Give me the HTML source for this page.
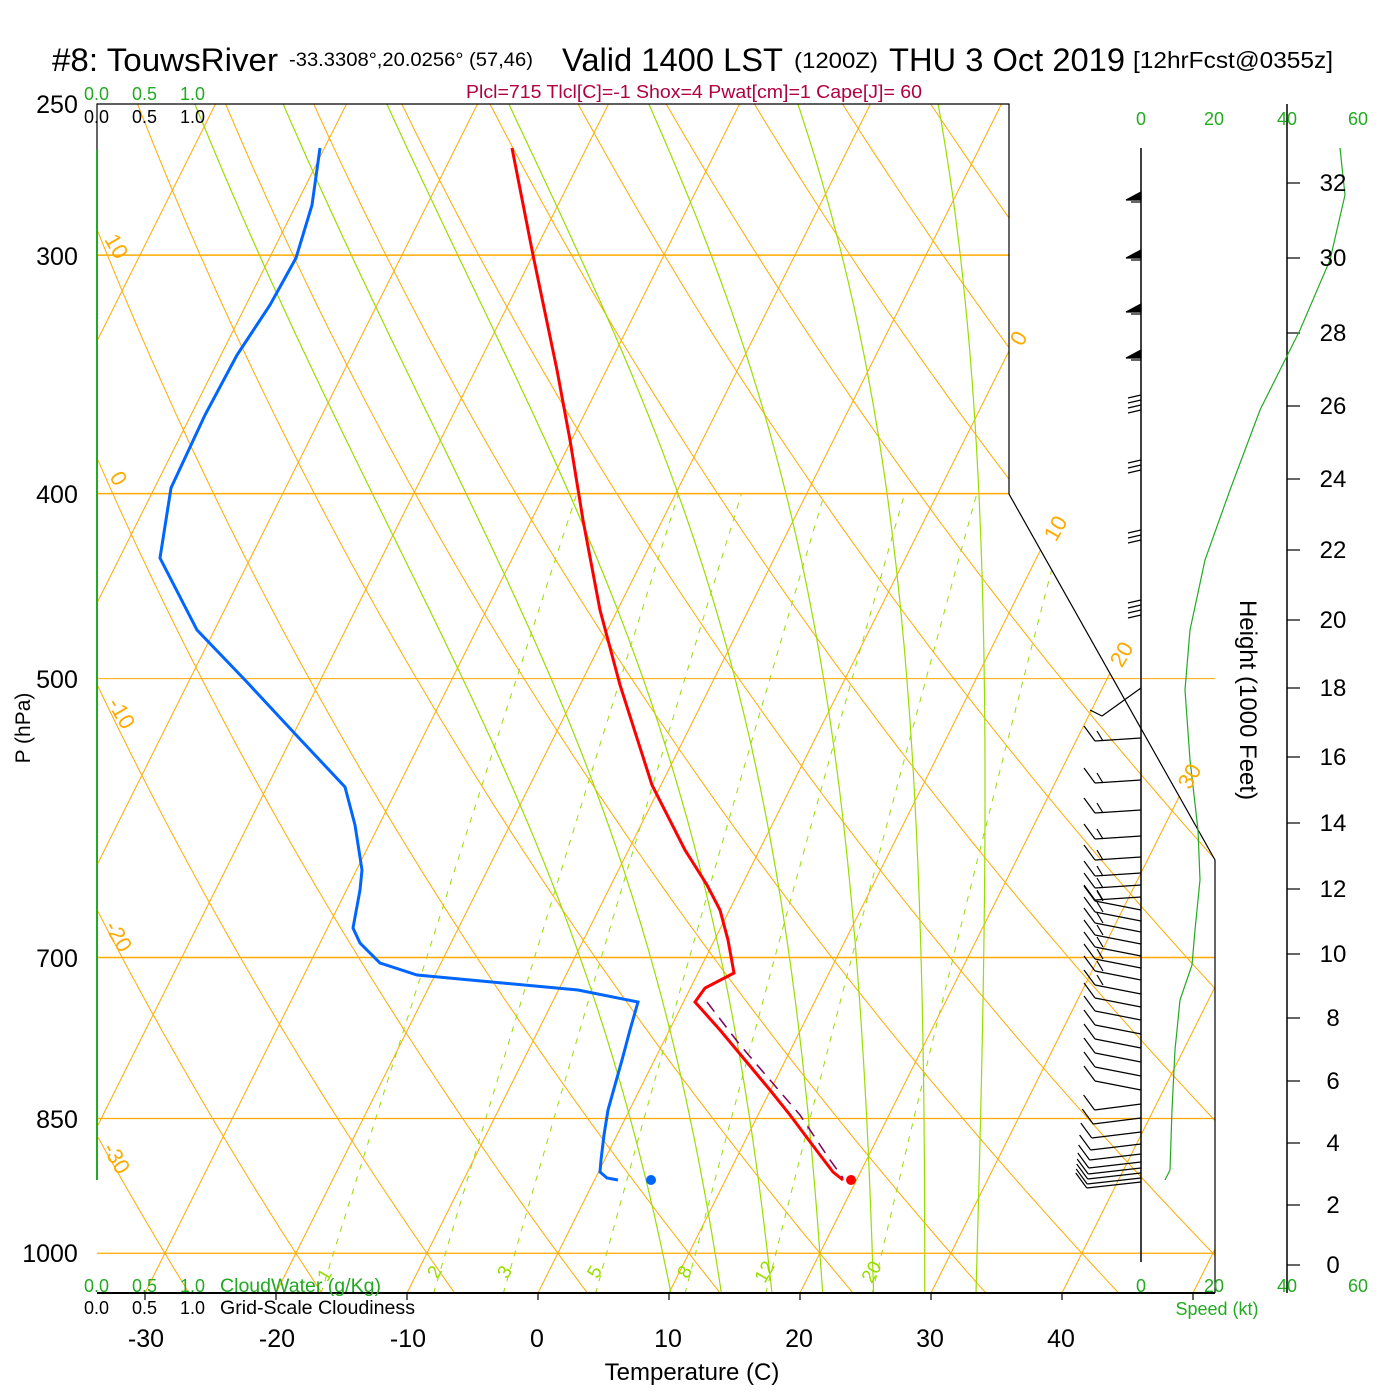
<!DOCTYPE html>
<html><head><meta charset="utf-8"><style>
html,body{margin:0;padding:0;background:#fff;}
svg{display:block;}
text{font-family:"Liberation Sans",sans-serif;}
</style></head><body>
<svg id="s" width="1400" height="1400" viewBox="0 0 1400 1400" xmlns="http://www.w3.org/2000/svg">
<defs><clipPath id="cp"><polygon points="97,104 1009,104 1009,494 1215,860 1215,1293 97,1293"/></clipPath></defs>
<rect width="1400" height="1400" fill="#fff"/>
<g id="grid" clip-path="url(#cp)"></g>
<g id="hl"></g>
<g stroke="#000" stroke-width="1.2" fill="none">
<polyline points="97,150 97,104 1009,104 1009,494 1215,860 1215,1293"/>
<line x1="97" y1="1293" x2="1215" y2="1293" stroke-width="2"/>
<line x1="1141" y1="148" x2="1141" y2="1262" stroke-width="1.5"/>
<line x1="1287" y1="104" x2="1287" y2="1293" stroke-width="1.5"/>
</g>
<line x1="97" y1="150" x2="97" y2="1180" stroke="#22aa22" stroke-width="2"/>
<g id="ticks" stroke="#000" stroke-width="1.2"></g>
<g id="barbs" stroke="#000" stroke-width="1.2" fill="#000"></g>
<polyline fill="none" stroke="#22aa22" stroke-width="1.2" points="1340,148 1345,195 1330,260 1300,330 1260,410 1230,490 1205,560 1190,630 1185,690 1190,760 1198,830 1200,880 1195,930 1192,965 1180,1000 1175,1050 1172,1110 1170,1170 1165,1180"/>
<polyline fill="none" stroke="#800060" stroke-width="1.5" stroke-dasharray="12,8" points="707,1002 740,1045 770,1080 800,1115 830,1160 843,1178"/>
<polyline fill="none" stroke="#ff0000" stroke-width="3" points="512,148 533,255 557,370 570,440 583,520 600,610 620,685 652,785 685,850 707,885 720,910 728,940 734,973 705,988 695,1002 720,1030 745,1060 770,1090 790,1115 805,1135 820,1155 833,1172 843,1180"/>
<polyline fill="none" stroke="#0066ff" stroke-width="3" points="320,148 312,205 296,258 270,305 237,355 205,415 171,488 160,558 197,630 245,680 298,737 345,787 355,825 362,870 360,890 353,928 360,943 380,963 417,975 578,990 638,1002 630,1030 622,1060 615,1085 608,1110 604,1135 601,1160 600,1172 607,1178 618,1180"/>
<circle cx="851" cy="1180" r="5" fill="#ff0000"/>
<circle cx="651" cy="1180" r="5" fill="#0066ff"/>
<g font-size="32"><text x="52" y="71" textLength="226" lengthAdjust="spacingAndGlyphs">#8: TouwsRiver</text><text x="562" y="71" textLength="221" lengthAdjust="spacingAndGlyphs">Valid 1400 LST</text><text x="889" y="71" textLength="236" lengthAdjust="spacingAndGlyphs">THU 3 Oct 2019</text></g>
<text x="289" y="66" font-size="19" textLength="244" lengthAdjust="spacingAndGlyphs">-33.3308°,20.0256° (57,46)</text>
<text x="794" y="68" font-size="22" textLength="84" lengthAdjust="spacingAndGlyphs">(1200Z)</text>
<text x="1133" y="68" font-size="23" textLength="200" lengthAdjust="spacingAndGlyphs">[12hrFcst@0355z]</text>
<text x="694" y="98" font-size="18" fill="#b00040" text-anchor="middle" textLength="456" lengthAdjust="spacingAndGlyphs">Plcl=715 Tlcl[C]=-1 Shox=4 Pwat[cm]=1 Cape[J]= 60</text>
<g font-size="18" fill="#22aa22"><text x="84" y="100">0.0</text><text x="132" y="100">0.5</text><text x="180" y="100">1.0</text>
<text x="84" y="1292">0.0</text><text x="132" y="1292">0.5</text><text x="180" y="1292">1.0</text><text x="220" y="1292" font-size="19" textLength="161" lengthAdjust="spacingAndGlyphs">CloudWater (g/Kg)</text></g>
<g font-size="18" fill="#000"><text x="84" y="123">0.0</text><text x="132" y="123">0.5</text><text x="180" y="123">1.0</text>
<text x="84" y="1314">0.0</text><text x="132" y="1314">0.5</text><text x="180" y="1314">1.0</text><text x="220" y="1314" font-size="19" textLength="195" lengthAdjust="spacingAndGlyphs">Grid-Scale Cloudiness</text></g>
<g font-size="25" text-anchor="middle"><text x="57" y="113">250</text><text x="57" y="265">300</text><text x="57" y="503">400</text><text x="57" y="688">500</text><text x="57" y="967">700</text><text x="57" y="1128">850</text><text x="50" y="1262">1000</text>
<text x="146" y="1347">-30</text><text x="277" y="1347">-20</text><text x="408" y="1347">-10</text><text x="537" y="1347">0</text><text x="668" y="1347">10</text><text x="799" y="1347">20</text><text x="930" y="1347">30</text><text x="1061" y="1347">40</text></g>
<text x="692" y="1380" font-size="24" text-anchor="middle">Temperature (C)</text>
<text transform="translate(30,728) rotate(-90)" font-size="21" text-anchor="middle">P (hPa)</text>
<text transform="translate(1240,700) rotate(90)" font-size="24" text-anchor="middle">Height (1000 Feet)</text>
<g font-size="24" text-anchor="middle" id="hlab"></g>
<g font-size="18" fill="#22aa22" text-anchor="middle"><text x="1141" y="125">0</text><text x="1214" y="125">20</text><text x="1287" y="125">40</text><text x="1358" y="125">60</text>
<text x="1141" y="1292">0</text><text x="1214" y="1292">20</text><text x="1287" y="1292">40</text><text x="1358" y="1292">60</text><text x="1217" y="1315">Speed (kt)</text></g>
<g font-size="22" fill="#ffaa00" text-anchor="middle">
<text transform="translate(1025,342) rotate(-60)">0</text><text transform="translate(1062,532) rotate(-60)">10</text><text transform="translate(1128,658) rotate(-60)">20</text><text transform="translate(1196,780) rotate(-60)">30</text>
<text transform="translate(110,250) rotate(60)">10</text><text transform="translate(112,482) rotate(60)">0</text><text transform="translate(115,717) rotate(60)">-10</text><text transform="translate(112,940) rotate(60)">-20</text><text transform="translate(110,1162) rotate(60)">-30</text></g>
<g font-size="19" fill="#99dd00" text-anchor="middle">
<text transform="translate(330,1278) rotate(-60)">1</text><text transform="translate(440,1275) rotate(-60)">2</text><text transform="translate(510,1275) rotate(-60)">3</text><text transform="translate(600,1275) rotate(-60)">5</text><text transform="translate(690,1275) rotate(-60)">8</text><text transform="translate(770,1275) rotate(-60)">12</text><text transform="translate(877,1275) rotate(-60)">20</text></g>
</svg>
<script>
(function(){
var NS="http://www.w3.org/2000/svg";
function Y(p){return 104+829*Math.log(p/250);}
function X(T,y){return 538+13.1*T+0.5*(1293-y);}
function add(g,tag,a){var e=document.createElementNS(NS,tag);for(var k in a)e.setAttribute(k,a[k]);g.appendChild(e);return e;}
var g=document.getElementById('grid');
var OR="#ffaa00",GR="#99dd00";
for(var T=-150;T<=60;T+=10){add(g,'line',{x1:X(T,1293),y1:1293,x2:X(T,104),y2:104,stroke:OR,'stroke-width':1});}
function pts(f,p0,p1){var s=[];for(var p=p0;p>=p1;p-=5){var y=Y(p);s.push(X(f(p),y).toFixed(1)+','+y.toFixed(1));}return s.join(' ');}
for(var th=-40;th<=220;th+=10){(function(th){add(g,'polyline',{points:pts(function(p){return (th+273.15)*Math.pow(p/1000,0.286)-273.15;},1050,250),fill:'none',stroke:OR,'stroke-width':1});})(th);}
function es(T){return 6.112*Math.exp(17.67*T/(T+243.5));}
[1,2,3,5,8,12,20].forEach(function(w){add(g,'polyline',{points:pts(function(p){var e=w*p/(622+w);var l=Math.log(e/6.112);return 243.5*l/(17.67-l);},1050,400),fill:'none',stroke:GR,'stroke-width':1,'stroke-dasharray':'6,7'});});
function moist(T0){var T=T0+273.15,p,dp=-2;var Rd=287,cp=1004,Lv=2.5e6,eps=0.622;
 function d(T,p){var e=es(T-273.15);var rs=eps*e/(p-e);return (Rd*T+Lv*rs)/(p*(cp+Lv*Lv*rs*eps/(Rd*T*T)));}
 var arr=[];var Tu=T;for(p=1000;p>=250;p+=dp){arr.push([p,Tu-273.15]);Tu+=d(Tu,p)*dp;}
 var Td=T,low=[];for(p=1000;p<=1050;p+=2){low.unshift([p,Td-273.15]);Td+=d(Td,p)*2;}
 return low.concat(arr);}
[8,12,16,20,24,28,32].forEach(function(t){var a=moist(t);add(g,'polyline',{points:a.map(function(q){var y=Y(q[0]);return X(q[1],y).toFixed(1)+','+y.toFixed(1);}).join(' '),fill:'none',stroke:GR,'stroke-width':1.2});});
var hl=document.getElementById('hl');
[[300,1009,1.5],[400,1009,1.5],[500,1215,1],[700,1215,1.5],[850,1215,1.2],[1000,1215,1.2]].forEach(function(a){var y=Y(a[0]);add(hl,'line',{x1:97,y1:y,x2:a[1],y2:y,stroke:OR,'stroke-width':a[2]});});
var tk=document.getElementById('ticks');
for(var x=145;x<=1215;x+=131)add(tk,'line',{x1:x,y1:1293,x2:x,y2:1300});
var hlab=document.getElementById('hlab');
[[32,183],[30,258],[28,333],[26,406],[24,479],[22,550],[20,620],[18,688],[16,757],[14,823],[12,889],[10,954],[8,1018],[6,1081],[4,1143],[2,1205],[0,1265]].forEach(function(h){add(tk,'line',{x1:1287,y1:h[1],x2:1300,y2:h[1]});var t=add(hlab,'text',{x:1333,y:h[1]+8});t.textContent=h[0];});
var b=document.getElementById('barbs');
[200,258,312,358].forEach(function(y){add(b,'polygon',{points:'1126,'+y+' 1141,'+y+' 1141,'+(y-8)});add(b,'line',{x1:1131,y1:y+2,x2:1141,y2:y+2});});
[395,400,405,410,460,465,470,530,535,540,600,605,610,615].forEach(function(y){add(b,'line',{x1:1128,y1:y+3,x2:1141,y2:y});});
add(b,'line',{x1:1141,y1:688,x2:1102,y2:716});add(b,'line',{x1:1102,y1:716,x2:1090,y2:710});
var ys=[738,780,810,836,857,873,885,897,910,921,932,944,956,968,980,994,1007,1020,1034,1048,1062,1076,1090,1104,1118,1132,1144,1154,1162,1168,1173,1178,1182];
ys.forEach(function(y){var ex=1095-(y>1100?(y-1100)*0.1:0), off=y<900?3:(y<1100?-9:6);var ey=y+off;add(b,'line',{x1:1141,y1:y,x2:ex,y2:ey});add(b,'line',{x1:ex,y1:ey,x2:ex-11,y2:ey-15});if(y<1000)add(b,'line',{x1:ex+8,y1:ey,x2:ex+2,y2:ey-10});});
})();
</script>
</body></html>
